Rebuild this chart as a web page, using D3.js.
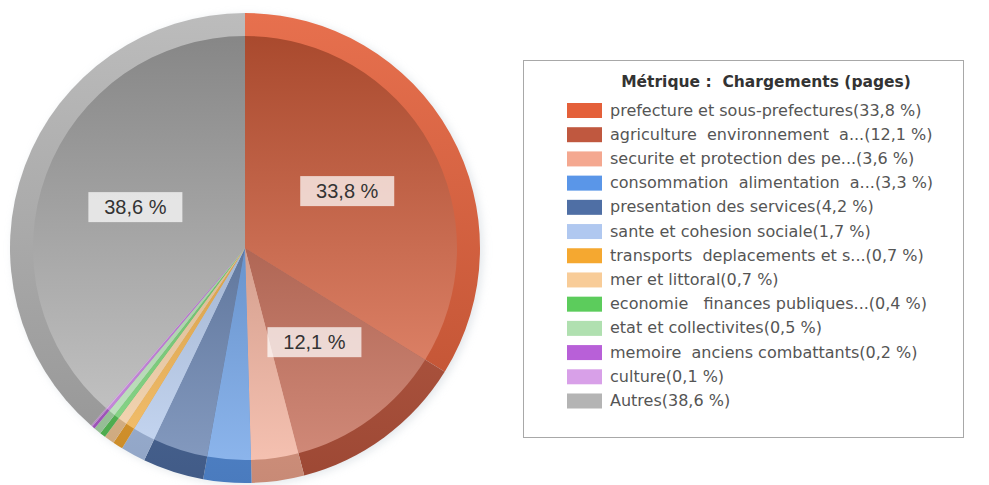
<!DOCTYPE html>
<html>
<head>
<meta charset="utf-8">
<script src="https://cdn.jsdelivr.net/npm/d3@7"></script>
<style>
  body { margin: 0; background: #fff; }
  svg { display: block; }
</style>
</head>
<body>
<svg id="chart" width="989" height="485"></svg>
<script>
"use strict";

const categories = [
  'prefecture et sous-prefectures',
  'agriculture  environnement  a...',
  'securite et protection des pe...',
  'consommation  alimentation  a...',
  'presentation des services',
  'sante et cohesion sociale',
  'transports  deplacements et s...',
  'mer et littoral',
  'economie   finances publiques...',
  'etat et collectivites',
  'memoire  anciens combattants',
  'culture',
  'Autres'
];

const values = [33.8, 12.1, 3.6, 3.3, 4.2, 1.7, 0.7, 0.7, 0.4, 0.5, 0.2, 0.1, 38.6];

const colors = [
  '#e4603a', '#c0583f', '#f4a890', '#5a96e8', '#4f6fa5', '#b0c8f0', '#f5a830',
  '#f8cc98', '#5ccc5c', '#b0e0b0', '#b860d8', '#d8a0e8', '#b4b4b4'
];

const title = 'Métrique :  Chargements (pages)';

const pct = v => v.toFixed(1).replace('.', ',') + ' %';

const svg = d3.select('#chart');
const defs = svg.append('defs');

const cx = 245, cy = 248, R = 235, Rin = 212;

// soft halo round the pie
defs.append('filter')
  .attr('id', 'halo')
  .attr('x', '-10%').attr('y', '-10%')
  .attr('width', '120%').attr('height', '120%')
  .append('feGaussianBlur')
  .attr('stdDeviation', 4);

function gradient(id, top, bottom)
{
  let g = defs.append('linearGradient')
    .attr('id', id)
    .attr('gradientUnits', 'userSpaceOnUse')
    .attr('x1', 0).attr('x2', 0)
    .attr('y1', -R).attr('y2', R);
  g.append('stop').attr('offset', 0).attr('stop-color', top);
  g.append('stop').attr('offset', 1).attr('stop-color', bottom);
}

colors.forEach((c, i) =>
{
  gradient('rim' + i, d3.interpolateRgb(c, '#fff')(0.1), d3.interpolateRgb(c, '#000')(0.18));
  gradient('face' + i, d3.interpolateRgb(c, '#000')(0.27), d3.interpolateRgb(c, '#fff')(0.32));
});

const pie = d3.pie().sort(null).value(d => d)(values);

const outerArc = d3.arc().innerRadius(0).outerRadius(R);
const innerArc = d3.arc().innerRadius(0).outerRadius(Rin);
const labelArc = d3.arc().innerRadius(117).outerRadius(117);

let chart = svg.append('g')
  .attr('transform', `translate(${cx},${cy})`);

chart.append('circle')
  .attr('cx', 3).attr('cy', 2)
  .attr('r', R)
  .attr('fill', '#c8d0d8')
  .attr('opacity', 0.5)
  .attr('filter', 'url(#halo)');

chart.selectAll('.rim')
  .data(pie)
  .enter()
  .append('path')
  .classed('rim', true)
  .attr('d', outerArc)
  .attr('fill', (d, i) => `url(#rim${i})`);

chart.selectAll('.face')
  .data(pie)
  .enter()
  .append('path')
  .classed('face', true)
  .attr('d', innerArc)
  .attr('fill', (d, i) => `url(#face${i})`);

let labels = chart.selectAll('.label')
  .data(pie.filter(d => d.value >= 5))
  .enter()
  .append('g')
  .classed('label', true)
  .attr('transform', d => `translate(${labelArc.centroid(d)})`);

labels.append('rect')
  .attr('x', -47).attr('y', -15)
  .attr('width', 94).attr('height', 30)
  .attr('fill', '#fff')
  .attr('opacity', 0.72);

labels.append('text')
  .attr('text-anchor', 'middle')
  .attr('dy', 7)
  .style('font-family', '"Liberation Sans", Arial, sans-serif')
  .style('font-size', '20px')
  .attr('fill', '#333')
  .text(d => pct(d.value));

// legend
const lx = 523, ly = 60, lw = 440, lh = 377;

let legend = svg.append('g');

legend.append('rect')
  .attr('x', lx + 0.5).attr('y', ly + 0.5)
  .attr('width', lw).attr('height', lh)
  .attr('fill', '#fff')
  .attr('stroke', '#a8a8a8');

legend.append('text')
  .attr('x', 766).attr('y', 87)
  .attr('text-anchor', 'middle')
  .style('font-family', '"DejaVu Sans", Verdana, sans-serif')
  .style('font-size', '15.5px')
  .style('font-weight', 'bold')
  .style('white-space', 'pre')
  .attr('fill', '#333')
  .text(title);

const rowY = d3.scaleLinear().domain([0, categories.length - 1]).range([110.5, 401]);

let rows = legend.selectAll('.row')
  .data(categories)
  .enter()
  .append('g')
  .classed('row', true)
  .attr('transform', (d, i) => `translate(0,${rowY(i)})`);

rows.append('rect')
  .attr('x', 567).attr('y', -7.5)
  .attr('width', 35).attr('height', 15)
  .attr('fill', (d, i) => colors[i]);

rows.append('text')
  .attr('x', 610).attr('y', 5)
  .style('font-family', '"DejaVu Sans", Verdana, sans-serif')
  .style('font-size', '16px')
  .style('white-space', 'pre')
  .attr('fill', '#555')
  .text((d, i) => d + '(' + pct(values[i]) + ')');
</script>
</body>
</html>
